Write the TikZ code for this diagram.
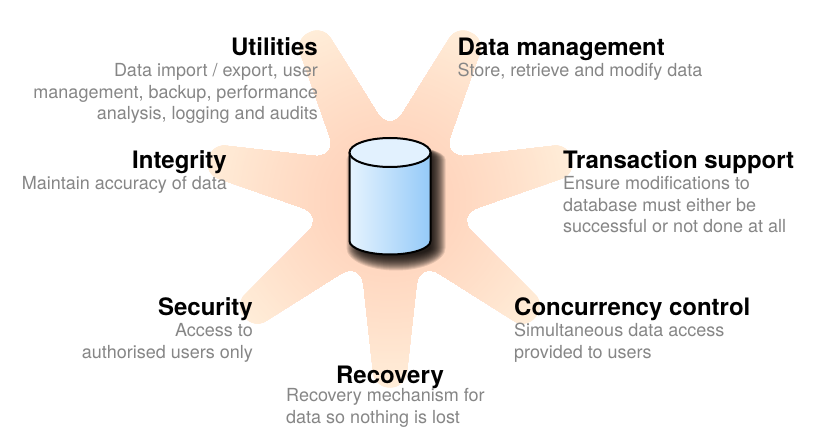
\documentclass[tikz,border=0pt]{standalone}
\usepackage{fontspec}
\setmainfont{TeX Gyre Heros}
\usetikzlibrary{positioning}
\definecolor{starin}{HTML}{FFD0B8}
\definecolor{starout}{HTML}{FFF0DC}
\definecolor{cylleft}{HTML}{E6F3FE}
\definecolor{cylright}{HTML}{94CAF8}
\definecolor{cyltop}{HTML}{E2F1FE}
\definecolor{notegray}{HTML}{868686}
\begin{document}
\begin{tikzpicture}[x=1bp, y=-1bp,
  head/.style={inner sep=0pt, text depth=5bp, font=\fontsize{24bp}{24bp}\selectfont\bfseries},
  note/.style={inner sep=0pt, text=notegray, font=\fontsize{18bp}{21.5bp}\selectfont}]
\useasboundingbox (0,0) rectangle (828,447);
\fill[white] (0,0) rectangle (828,447);
\coordinate (mid) at (390,200.5);
\begin{scope}
\clip ([shift={(90:187)}]mid)
  \foreach \i in {0,...,6} {
    \pgfextra{\pgfmathsetmacro{\ang}{90+\i*360/7}}
    [rounded corners=14bp] -- ([shift={(\ang+4.7:187)}]mid)
    [rounded corners=24bp] -- ([shift={(\ang+25.71:67)}]mid)
    [rounded corners=14bp] -- ([shift={(\ang+46.73:187)}]mid)
  } -- cycle;
\foreach \r [evaluate=\r as \p using {94*(\r/190)^1.4}] in {192,190,...,2}
  \fill[starout!\p!starin] (mid) circle (\r);
\end{scope}
\foreach \k in {9,...,-6}
  \fill[black, opacity=.11] (355.5-\k,159.5) arc[start angle=180, end angle=360, x radius=40.5+\k, y radius=14]
    -- (436.5+\k,248) arc[start angle=0, end angle=180, x radius=40.5+\k, y radius=13.5+\k] -- cycle;
\path[left color=cylleft, right color=cylright] (349.5,152.5) -- (430.5,152.5) -- (430.5,241)
  arc[start angle=0, end angle=180, x radius=40.5, y radius=13.5] -- cycle;
\draw[line width=2bp] (349.5,152.5) -- (349.5,241) arc[start angle=180, end angle=0, x radius=40.5, y radius=13.5] -- (430.5,152.5);
\draw[line width=2bp, fill=cyltop] (390,152.5) ellipse[x radius=40.5, y radius=14.5];
\node[head, anchor=base east] (util) at (318,56) {Utilities};
\node[note, align=right, below left=2bp and 0bp of util.south east] (utilnote) {Data import / export, user\\management, backup, performance\\analysis, logging and audits};
\node[head, anchor=base west] (data) at (457.5,56) {Data management};
\node[note, align=left, below right=2bp and 0bp of data.south west] (datanote) {Store, retrieve and modify data};
\node[head, anchor=base east] (integ) at (227,169) {Integrity};
\node[note, align=right, below left=2bp and 0bp of integ.south east] (integnote) {Maintain accuracy of data};
\node[head, anchor=base west] (trans) at (563,169) {Transaction support};
\node[note, align=left, below right=2bp and 0bp of trans.south west] (transnote) {Ensure modifications to\\database must either be\\successful or not done at all};
\node[head, anchor=base east] (secur) at (253,316) {Security};
\node[note, align=right, below left=2bp and 0bp of secur.south east] (securnote) {Access to\\authorised users only};
\node[head, anchor=base west] (concur) at (514,316) {Concurrency control};
\node[note, align=left, below right=2bp and 0bp of concur.south west] (concurnote) {Simultaneous data access\\provided to users};
\node[head, anchor=base] (recov) at (390,384) {Recovery};
\node[note, align=left, below right=-1bp and 0bp of recov.south, xshift=-104bp] (recovnote) {Recovery mechanism for\\data so nothing is lost};
\end{tikzpicture}
\end{document}
